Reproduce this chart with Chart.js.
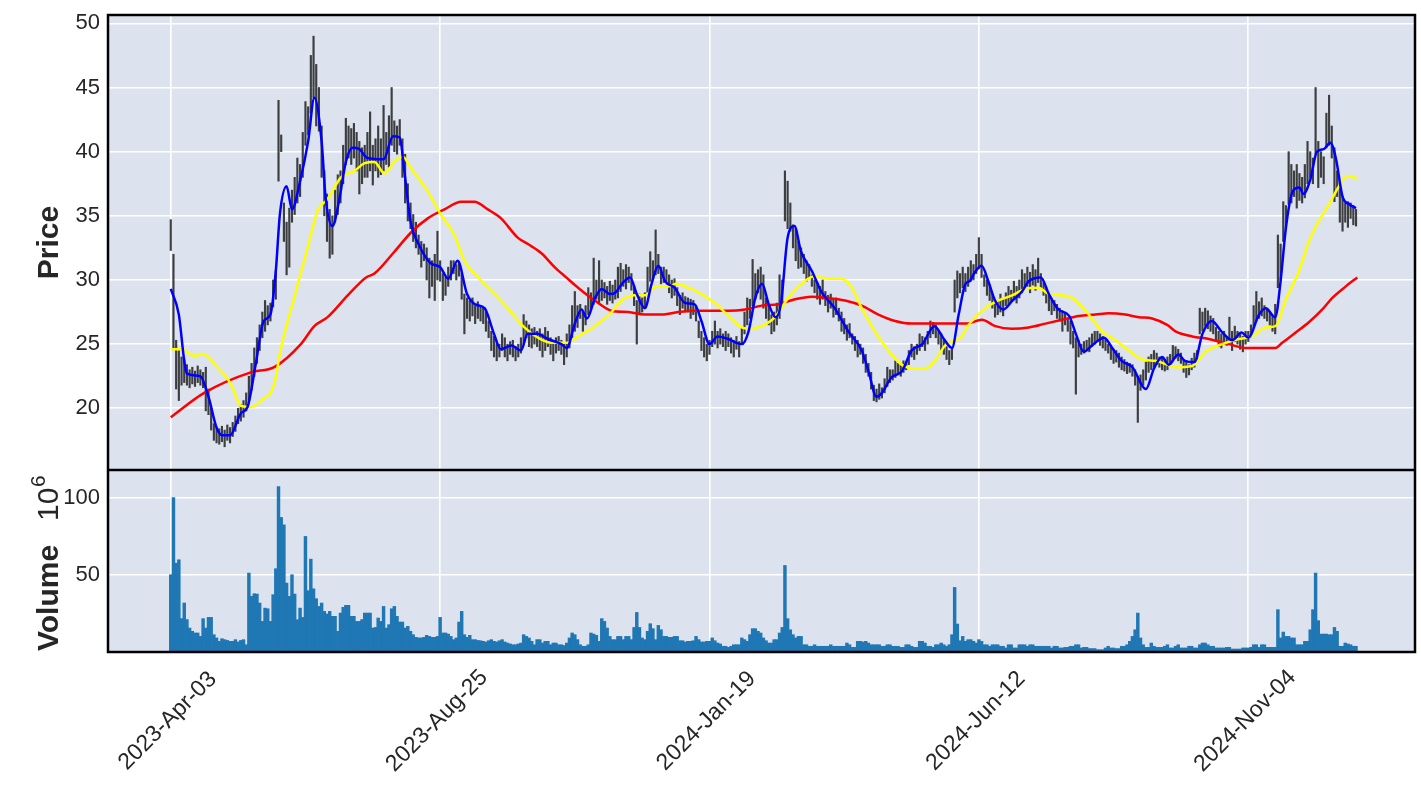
<!DOCTYPE html>
<html>
<head>
<meta charset="utf-8">
<script src="https://cdn.jsdelivr.net/npm/chart.js@4.4.1/dist/chart.umd.min.js"></script>
<style>
  html, body { margin: 0; padding: 0; background: #fff; }
  #wrap { width: 1421px; height: 786px; }
</style>
</head>
<body>
<div id="wrap"><canvas id="chart" width="1421" height="786"></canvas></div>
<script>
// x axis: trading-day index, labelled every 100 days
const tickDays = [0, 100, 200, 300, 400];
const tickLabels = ['2023-Apr-03', '2023-Aug-25', '2024-Jan-19', '2024-Jun-12', '2024-Nov-04'];
const priceTicks = [20, 25, 30, 35, 40, 45, 50];
const volumeTicks = [50, 100];

// daily low / high (one bar per trading day)
const priceLow = [
  32.3,24.7,21.5,20.6,21.8,22.0,21.8,21.6,21.9,21.7, 22.0,21.8,21.6,19.8,19.5,18.3,17.5,17.3,17.2,17.4,
  17.0,17.5,17.3,17.8,18.2,18.8,19.0,19.3,19.8,20.5, 21.4,22.5,23.5,24.5,25.5,26.0,26.5,26.8,27.9,28.5,
  37.7,40.0,33.0,30.4,31.0,34.5,35.1,36.0,36.5,38.0, 40.5,41.3,43.0,44.2,42.0,41.6,38.0,35.0,33.0,31.7,
  32.0,34.5,35.1,36.0,37.5,39.0,39.5,39.0,39.5,38.5, 36.7,37.5,38.0,38.0,38.5,37.4,38.5,38.0,38.2,38.5,
  39.0,38.8,40.5,40.0,39.8,40.5,38.0,36.0,34.6,34.0, 33.0,32.5,32.0,31.0,31.5,30.0,28.6,29.5,28.4,30.0,
  29.9,28.4,28.8,29.5,30.0,30.5,30.0,30.3,28.5,25.8, 27.0,26.8,27.2,26.6,27.0,26.8,26.6,26.0,25.5,24.5,
  24.0,23.7,24.0,24.5,24.0,23.7,24.2,24.0,23.7,24.0, 24.3,25.0,25.5,24.8,24.7,25.0,24.8,24.5,24.0,24.5,
  24.8,24.2,23.7,24.3,24.5,24.2,23.4,24.0,24.7,25.5, 26.0,26.3,27.0,26.0,26.5,27.3,27.8,28.1,28.5,28.2,
  28.4,28.6,28.1,28.4,28.2,28.5,28.6,29.1,29.5,29.3, 29.8,29.2,28.0,25.0,27.3,27.5,27.8,29.0,29.9,30.0,
  30.4,30.5,29.7,29.8,29.9,29.0,28.6,28.8,28.0,27.3, 27.8,27.5,27.5,27.0,27.3,26.8,25.5,24.5,24.0,23.7,
  24.2,24.8,25.0,24.7,25.0,24.8,24.5,24.8,24.3,24.0, 24.6,24.0,25.0,25.8,26.5,27.0,28.0,28.5,29.0,28.5,
  27.8,27.0,26.5,25.8,26.0,26.5,27.0,28.0,34.6,34.0, 33.8,32.5,31.5,30.9,31.0,30.5,29.9,30.2,29.5,29.0,
  28.5,28.1,28.5,28.0,27.5,27.8,27.1,27.3,26.8,26.0, 25.8,25.3,25.5,25.0,24.5,24.0,24.2,23.5,22.8,22.5,
  21.5,20.6,20.5,20.7,20.8,21.2,21.7,22.0,22.2,22.4, 22.6,22.5,22.8,23.0,23.4,24.0,23.8,24.2,24.5,24.8,
  24.5,25.0,25.5,25.8,25.5,25.0,24.5,24.2,23.8,23.4, 23.8,27.5,28.6,29.0,29.4,29.1,29.5,29.9,30.0,30.5,
  30.9,30.2,29.5,28.8,28.4,27.8,27.1,27.3,27.5,27.2, 28.0,28.1,28.3,28.5,28.2,28.6,29.0,29.3,29.5,29.0,
  29.6,29.2,29.8,29.4,28.8,28.2,27.6,27.3,27.6,27.0, 26.8,26.0,26.5,26.0,25.0,24.7,21.1,24.0,24.2,24.3,
  24.5,24.4,24.8,25.0,25.2,24.9,24.7,24.5,24.3,23.8, 23.5,23.6,23.2,23.0,22.9,22.7,22.8,22.5,21.8,18.9,
  21.4,21.8,22.2,22.8,23.0,23.2,23.4,23.2,23.0,22.9, 23.0,23.3,23.7,23.9,23.7,23.5,22.8,22.4,22.6,23.0,
  23.2,23.6,25.8,26.0,26.4,26.2,26.0,25.8,25.2,24.8, 24.7,25.0,24.9,25.0,24.5,25.2,25.0,24.6,24.4,25.0,
  25.2,25.5,26.3,26.8,27.0,27.2,27.0,26.8,26.5,26.0, 25.8,29.4,30.0,33.0,34.0,35.9,36.0,36.5,35.6,36.2,
  36.0,36.4,37.5,38.0,37.5,39.8,37.2,38.0,37.5,40.3, 40.5,39.5,36.1,36.5,34.5,33.8,34.5,34.1,34.8,34.3,
  34.2
];
const priceHigh = [
  34.7,32.0,25.3,24.5,24.0,23.8,23.4,23.0,23.2,22.9, 23.3,23.0,22.8,23.2,21.5,20.0,18.8,18.5,18.4,18.6,
  18.3,18.7,18.5,18.9,19.4,20.0,20.3,20.6,21.2,22.5, 23.5,24.7,25.5,26.5,27.5,28.4,28.0,28.2,30.0,30.7,
  44.0,41.3,36.0,34.5,35.6,37.0,38.0,39.5,39.0,41.5, 43.9,43.5,47.5,49.0,46.8,45.0,42.0,38.5,36.7,35.5,
  35.0,37.0,38.2,38.5,40.5,42.6,42.0,41.8,42.2,41.5, 40.8,40.3,40.5,41.5,43.1,40.5,41.0,42.0,41.0,43.6,
  41.5,42.8,45.0,42.4,42.0,42.5,41.0,39.8,37.5,36.0, 35.1,34.5,33.5,33.0,32.8,32.5,31.7,31.5,32.0,33.8,
  31.5,30.5,30.2,31.0,31.5,31.5,31.2,31.4,30.5,28.9, 28.6,28.4,28.6,28.0,28.3,28.0,27.8,27.5,26.8,26.0,
  25.6,25.2,25.0,25.8,25.5,25.0,25.2,25.3,24.8,25.0, 25.5,27.3,26.8,26.5,26.2,26.3,26.0,26.2,25.8,26.3,
  26.0,25.5,25.3,25.5,25.6,25.3,25.0,25.8,26.5,28.0, 29.1,28.0,28.1,27.5,28.0,29.4,29.0,31.7,30.0,31.5,
  30.0,29.8,29.5,29.9,29.6,30.0,31.0,31.3,30.8,31.2, 31.0,30.5,29.5,28.4,28.9,28.6,29.0,31.0,32.2,31.5,
  33.9,32.0,31.0,31.0,30.8,30.4,30.0,30.1,29.4,28.8, 29.0,28.7,28.6,28.5,28.4,28.0,26.8,26.0,25.5,25.0,
  25.3,26.0,26.8,26.0,26.2,25.8,26.0,25.8,25.5,25.3, 25.6,25.2,26.3,27.5,28.6,28.5,31.6,30.5,30.8,31.0,
  30.4,28.6,28.0,27.3,27.5,28.2,30.4,30.0,38.5,37.7, 36.0,34.3,34.0,33.0,32.5,32.0,31.5,31.2,30.4,30.0,
  29.8,29.5,30.0,29.1,28.8,28.9,28.5,28.6,27.8,27.5, 27.0,26.5,26.6,25.8,25.6,25.3,25.0,24.7,24.2,23.5,
  22.8,21.8,21.5,21.9,21.6,22.3,23.2,23.0,23.0,23.7, 23.5,23.4,23.7,23.6,24.5,25.0,24.8,25.0,25.8,25.6,
  25.5,26.0,26.8,26.7,26.5,26.0,25.8,25.3,24.8,24.5, 24.6,30.0,30.7,30.5,31.0,30.5,31.0,31.5,31.2,32.0,
  33.3,32.0,30.4,30.0,29.6,28.9,28.3,28.4,28.9,28.5, 29.0,29.5,29.2,29.9,29.5,30.0,30.8,30.5,31.0,30.6,
  31.2,30.8,31.7,30.5,29.8,29.4,28.8,28.5,28.4,28.1, 27.8,27.6,27.5,27.0,26.8,26.0,25.5,25.3,25.0,25.2,
  25.3,25.5,25.8,26.0,26.0,25.8,25.6,25.4,25.0,24.9, 24.6,24.5,24.3,24.0,23.8,23.6,23.5,23.4,23.0,22.5,
  22.6,23.0,23.6,24.0,24.2,24.5,24.3,24.0,24.0,23.8, 24.0,24.2,24.9,24.8,24.6,24.3,23.8,23.6,23.4,23.9,
  24.3,24.5,27.8,27.5,27.8,27.6,27.2,27.0,26.3,26.0, 25.8,26.0,25.6,27.1,26.0,26.4,26.0,25.8,25.6,26.0,
  26.0,26.5,28.0,29.1,28.3,28.6,28.0,27.8,27.5,27.2, 28.1,33.5,32.8,36.1,35.8,40.0,39.0,38.5,39.0,38.3,
  38.0,39.0,40.8,40.0,39.5,45.0,40.8,40.0,39.6,43.0, 44.4,42.0,40.3,38.5,37.2,36.5,36.0,36.1,36.0,35.8,
  35.5
];
// daily volume, millions
const volume = [
  50,100,57.5,59.7,21.6,31.7,21,15.5,13.4,12.3, 12.3,10.1,21.6,15.5,22.4,22.4,11.2,9.1,6.9,8.6,
  8,7.5,6.9,6.9,8,6.5,7.5,8,4.7,51.1, 36,37.7,37.5,31.7,19.8,28.4,28,19.8,37.1,53.9,
  107,87.1,82.3,44.6,36,50,37.5,20.9,28.4,22.4, 74.8,39.7,60.1,40.9,34.5,29.5,31.7,26.3,24.6,26.3,
  23.1,23.1,13.4,25.2,28.9,30.2,30.2,23.1,23.1,19.8, 19.8,21,25.2,25.2,25.2,15.5,15.9,22,19.8,29.5,
  15.5,17.7,28,29.5,23.1,19.4,19.4,15.5,16.6,13.4, 11.2,9.5,9.1,9.1,9.5,10.8,10.1,9.5,9.5,10.1,
  22.4,12.3,12.3,11.6,10.1,8,9.1,19.4,26.3,11.2, 9.5,10.8,8,8,7.5,7.3,6.9,6.5,7.3,8,
  6.9,6.5,7.3,8,6.5,5.8,5.2,4.7,4.7,5.2, 5.8,11.2,10.1,9.1,6.9,4.7,8,8,5.8,6.9,
  6.9,4.7,5.8,5.8,4.7,4.7,4.2,5.8,9.1,12.3, 11.2,8,4.7,3.7,3.7,4.7,12.3,11.6,10.8,6.9,
  21.6,19.8,15.5,10.1,8,8,10.1,10.1,8,10.1, 10.1,8,15.9,25.6,15.9,9.1,8,13.4,18.3,15.1,
  8,17.2,14.4,10.1,10.1,9.5,9.5,10.1,10.1,7.3, 7.3,6.5,6.9,6.9,7.3,10.1,8,6.5,6.5,6.9,
  6.9,9.1,7.3,5.8,5.2,3.7,3.7,3,3.7,4.7, 4.7,4.7,9.1,8,6.9,11.2,15.1,15.1,13.4,12.3,
  9.1,7.3,5.8,5.8,8,8,12.3,15.9,56,21.6, 14.4,11.2,9.1,10.1,10.1,4.7,4.7,3.7,3.7,4.7,
  3.7,3.7,3.7,3.7,3.7,4.7,3.7,3.7,3.7,3.7, 3.7,5.8,4.7,3,3,6.9,6.9,6.5,6.9,5.8,
  4.7,4.7,4.7,4.7,3.7,3.7,4.7,4.7,3.7,3.7, 3.7,3,3,4.7,4.7,3.7,3,3,6.9,6.9,
  5.8,3.7,3.7,3,4.7,4.7,5.8,4.7,3.7,4.7, 11.2,41.8,18.1,7.3,10.1,6.9,8,8,6.9,5.8,
  8,6.9,4.7,4.7,3.7,4.7,4.7,4.7,3.7,3.7, 2.6,4.7,4.7,2.6,2.6,4.7,4.7,4.7,3.7,4.7,
  4.7,3.7,3.7,3.7,3.7,3.7,3.7,2.6,3.7,3.7, 2.6,2.6,3,3,3.7,3.7,4.7,4.7,2.6,3,
  3,2.2,2.2,2.2,1.5,1.5,1.5,2.6,3.7,2.6, 2.6,2.2,2.2,3.7,3.7,4.7,6.9,10.1,14.4,25.2,
  9.1,4.7,3,3,5.8,3.7,3,3,3,3.7, 4.7,2.6,2.6,3.7,4.7,2.6,2.6,2.6,3.7,3.7,
  2.6,2.6,4.7,5.8,5.8,4.7,3.7,3.7,2.6,2.6, 2.6,2.6,3,3,1.9,1.9,1.9,1.9,2.6,2.6,
  2.6,3,4.7,4.7,3,4.7,4.7,3,3,3, 3,27.4,9.1,12.9,10.1,10.1,9.1,9.1,4.7,4.7,
  4.7,6.9,6.9,14.4,27.4,51.1,20.3,11.6,11.6,11.6, 11.2,11.2,15.9,13.4,3.7,3.7,5.8,5.2,4.7,3.7,
  3.7
];

// moving averages (day index, price)
const fastDays = [0,3,5,6,11,14,17,19,22,26,28.5,31.5,34.5,37,39,40.5,43,45,48,51,53.3,56,57.5,60,62.5,65,67.5,70,73,79,
  82.5,85,86.7,89,92,96.5,100,103,106.5,110,113,116.5,120,122.5,126.5,130,132.5,136,140,145,147,150,152.5,154.5,157.5,160,163,165,167.5,170.5,
  173,176,178.5,181,183.5,187,191,194.5,197,200,203,207,210,212,214.5,217,219.5,222,224.5,226.5,229,231.5,234,238,241.5,246.5,251.5,256.5,259,262,
  264,267.5,271.5,275,279,283.5,287,290,292.5,295,296.5,298.5,301,303.5,306,309,312.5,316,318.5,323,326,329.5,333.5,336,339,342,346.5,349.5,353,357,
  362,365,368,370.5,374,376.5,380,383,386.5,390,394,397.5,400,404,406.5,410,412,414,416.5,419,420.5,423,425.5,428,430.5,432.5,435,437.5,440];
const fastMa = [29.3,27.3,23.7,22.7,22.5,20.9,18.5,17.9,17.9,19.6,20.1,23.4,26.8,27.3,30.7,35.1,37.3,35.5,37.7,40.8,44.2,40.8,36.4,34.2,36.2,39.2,40.3,40.2,39.5,39.4,
  41.2,41.1,38.5,34.6,32.8,31.3,31,30.1,31.5,28.9,28.1,27.8,25.8,24.6,24.9,24.5,25.8,25.8,25.4,25,24.7,26.6,27.7,27,28.6,29.3,28.9,29,29.7,30.2,
  28.9,27.8,29.7,31.1,29.9,29.4,28.2,28.1,26.8,25,25.6,25.4,25.1,25,26,28.6,29.7,28.1,27.1,28.1,33.3,34.2,32.2,30.7,29.1,27.8,26,24.5,22.9,20.9,
  21.2,22.4,22.9,24.5,25,26.4,25.4,24.7,27.3,29.7,29.9,30.6,31.1,29.9,28.4,27.7,28.4,29.1,29.9,30.2,28.9,27.7,27.2,25.8,24.4,24.9,25.5,24.7,23.7,23.2,
  21.5,23.1,24,23.4,24.2,23.7,23.6,25.8,26.8,26,25.3,25.9,25.5,27.3,27.8,27.1,29.9,34.1,36.9,37.2,36.7,37.8,40,40.2,40.7,39.5,36.5,35.9,35.6];

const midDays = [0,3.7,8.7,12.4,17.3,22.3,26,29.7,33.5,38.4,40.9,45.8,50.8,54.5,58.2,63.2,68.2,72,75.6,79.3,83,86.1,89.2,95.4,100.3,105.3,109,114,120.2,125.1,
  131.3,136.3,141.2,146.8,151.2,157.4,163.6,167.3,172.3,176,180.3,184.7,187.8,192.1,197,202,207,211.9,214.4,219.3,224.3,229.2,234.2,239.1,244.1,249,252.8,256.5,261.4,266.4,
  271.3,276.3,280,283.7,287.5,291.2,293.7,295.5,297.4,302.4,307.3,312.3,317.2,322.2,325.9,330.9,334.6,340.8,345.7,350.7,355.7,360.6,365.6,369.9,373,379.2,384.1,390.3,396.5,401.5,
  406.4,410.1,413.8,418.8,422.5,426.2,430,433.7,436.8,439.3,440.5];
const midMa = [24.6,24.6,24.1,24.2,23.2,21.9,20.2,20.1,20.6,21.9,24.7,28.6,32.5,35.4,36.3,38,38.5,39.1,39.2,38.3,39.2,39.6,38.7,36.9,35.1,33.5,31.5,30.2,28.9,27.8,
  26.3,25.5,25.1,25.1,25.6,26.4,27.5,28.4,28.8,28.8,29.5,29.5,29.7,29.4,28.9,28.2,27.2,26.3,26.2,26.4,27.1,28.6,29.7,30.3,30.1,30.1,29.4,27.8,26,24.5,
  23.4,23.1,23.1,23.7,24.9,25.3,25.6,26.3,26.8,27.8,28.4,28.8,29.3,29.4,28.9,28.8,28.6,27.3,26,25.3,24.5,23.8,23.7,23.4,23.2,23.3,24.4,25,25.4,25.6,
  26.3,26.4,28.4,30.7,33,34.6,35.9,37.3,38.1,38,37.9];

const slowDays = [0,12.4,29.7,38.4,48.3,53.3,58.2,65.7,72.5,75.6,83,89.2,95.4,101.6,107.8,112.7,117.7,122.6,128.8,132.6,137.5,142.5,146.8,151.2,157.4,163.6,169.8,176,182.2,188.4,
  194.6,200.8,207,213.2,219.3,225.5,231.7,237.9,244.1,250.3,256.5,262.7,268.9,275,281.3,287.5,295.5,301.1,306.1,312.3,318.5,324.7,330.9,337.1,343.3,348.2,354.4,359.4,364.3,369.9,
  373,379.2,385.3,392.8,399,405.2,410.1,412.6,417.6,422.5,427.5,431.2,436.2,440.5];
const slowMa = [19.3,21.2,22.8,23.2,25,26.4,27.1,28.8,30.2,30.5,32.2,33.7,34.8,35.5,36.1,36.1,35.5,34.8,33.3,32.8,32.1,31,30.2,29.4,28.4,27.6,27.5,27.3,27.3,27.5,
  27.6,27.6,27.6,27.7,28,28.1,28.5,28.7,28.6,28.4,28,27.3,26.8,26.6,26.6,26.6,26.6,26.9,26.4,26.2,26.3,26.6,26.9,27.2,27.3,27.4,27.3,27.1,27,26.5,
  26,25.6,25.4,25,24.7,24.7,24.7,25.1,25.9,26.7,27.7,28.6,29.5,30.2];

const FONT = '"Liberation Sans", Arial, sans-serif';
const TEXT = '#262626';

const toPoints = (days, vals) => days.map((d, i) => ({ x: d, y: vals[i] }));

// keep the left axes at a fixed width and stop them reserving room for half labels
const fitLeftAxis = s => { s.width = 108; s.paddingTop = 0; s.paddingBottom = 0; };

const panelPlugin = {
  id: 'panels',
  beforeDraw(chart) {
    const { ctx, chartArea: a } = chart;
    ctx.save();
    ctx.fillStyle = '#DCE3EF';
    ctx.fillRect(a.left, a.top, a.width, a.height);
    ctx.restore();
  },
  afterDraw(chart) {
    const { ctx, chartArea: a, scales } = chart;
    ctx.save();
    // frame and divider between the two panels
    ctx.strokeStyle = '#000';
    ctx.lineWidth = 2.5;
    ctx.strokeRect(a.left, a.top, a.width, a.height);
    ctx.beginPath();
    ctx.moveTo(a.left, scales.y.bottom);
    ctx.lineTo(a.right, scales.y.bottom);
    ctx.stroke();

    // rotated date labels, centred under each tick
    ctx.fillStyle = TEXT;
    ctx.font = '23px ' + FONT;
    ctx.textAlign = 'center';
    ctx.textBaseline = 'middle';
    tickDays.forEach((d, k) => {
      const px = scales.x.getPixelForValue(d);
      ctx.save();
      ctx.translate(px - 3, 721);
      ctx.rotate(-Math.PI / 4);
      ctx.fillText(tickLabels[k], 0, 0);
      ctx.restore();
    });

    // axis titles
    ctx.textBaseline = 'alphabetic';
    ctx.save();
    ctx.translate(58, (scales.y.top + scales.y.bottom) / 2);
    ctx.rotate(-Math.PI / 2);
    ctx.font = 'bold 30px ' + FONT;
    ctx.fillText('Price', 0, 0);
    ctx.restore();

    ctx.save();
    ctx.translate(58, scales.yv.bottom - 1);
    ctx.rotate(-Math.PI / 2);
    ctx.textAlign = 'left';
    ctx.font = 'bold 30px ' + FONT;
    ctx.fillText('Volume', 0, 0);
    ctx.font = '30px ' + FONT;
    ctx.fillText('10', 130, 0);
    ctx.font = '21px ' + FONT;
    ctx.fillText('6', 164, -13);
    ctx.restore();

    ctx.restore();
  }
};

new Chart(document.getElementById('chart'), {
  type: 'bar',
  data: {
    datasets: [
      {
        type: 'line', label: 'fast', data: toPoints(fastDays, fastMa), yAxisID: 'y',
        borderColor: '#0000ff', borderWidth: 2.5, pointRadius: 0, fill: false,
        cubicInterpolationMode: 'monotone', order: 1
      },
      {
        type: 'line', label: 'mid', data: toPoints(midDays, midMa), yAxisID: 'y',
        borderColor: '#ffff00', borderWidth: 2.5, pointRadius: 0, fill: false,
        cubicInterpolationMode: 'monotone', order: 2
      },
      {
        type: 'line', label: 'slow', data: toPoints(slowDays, slowMa), yAxisID: 'y',
        borderColor: '#ff0000', borderWidth: 2.5, pointRadius: 0, fill: false,
        cubicInterpolationMode: 'monotone', order: 3
      },
      {
        label: 'range', data: priceLow.map((lo, i) => ({ x: i, y: [lo, priceHigh[i]] })),
        yAxisID: 'y', backgroundColor: 'rgba(20,20,20,0.8)', barThickness: 1.5,
        grouped: false, order: 5
      },
      {
        label: 'volume', data: volume.map((v, i) => ({ x: i, y: v })),
        yAxisID: 'yv', backgroundColor: '#1f77b4', barThickness: 2.8,
        grouped: false, order: 6
      }
    ]
  },
  options: {
    responsive: false,
    animation: false,
    events: [],
    layout: { padding: { top: 15, right: 6, left: 0, bottom: 0 } },
    plugins: { legend: { display: false }, tooltip: { enabled: false } },
    scales: {
      x: {
        type: 'linear', min: -23.3, max: 461.9, offset: false,
        grid: { color: '#ffffff', lineWidth: 1.6, drawTicks: false, offset: false },
        border: { display: false },
        ticks: { display: false },
        afterBuildTicks: s => { s.ticks = tickDays.map(v => ({ value: v })); },
        afterFit: s => { s.height = 134; s.paddingLeft = 0; s.paddingRight = 0; }
      },
      y: {
        type: 'linear', position: 'left', stack: 'panels', stackWeight: 2.5, weight: 2,
        min: 15.19, max: 50.65,
        grid: { color: '#ffffff', lineWidth: 1.6, drawTicks: false },
        border: { display: false },
        ticks: { color: TEXT, font: { family: FONT, size: 22 }, padding: 8 },
        afterBuildTicks: s => { s.ticks = priceTicks.map(v => ({ value: v })); },
        afterFit: fitLeftAxis
      },
      yv: {
        type: 'linear', position: 'left', stack: 'panels', stackWeight: 1, weight: 1,
        min: 0, max: 117.8,
        grid: { color: '#ffffff', lineWidth: 1.6, drawTicks: false },
        border: { display: false },
        ticks: { color: TEXT, font: { family: FONT, size: 22 }, padding: 8 },
        afterBuildTicks: s => { s.ticks = volumeTicks.map(v => ({ value: v })); },
        afterFit: fitLeftAxis
      }
    }
  },
  plugins: [panelPlugin]
});
</script>
</body>
</html>
